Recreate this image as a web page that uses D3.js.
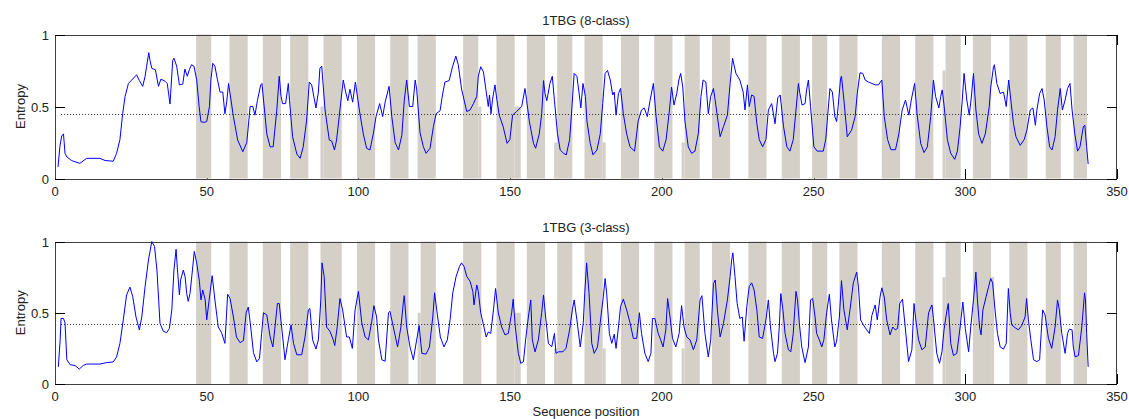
<!DOCTYPE html>
<html>
<head>
<meta charset="utf-8">
<script src="https://cdn.jsdelivr.net/npm/d3@7"></script>
<style>
  body { margin: 0; background: #fff; }
  text { font-family: Arial, "Liberation Sans", sans-serif; font-size: 13px; fill: #222; }
</style>
</head>
<body>
<svg id="chart" width="1129" height="419"></svg>
<script>
/////////////////
// Data        //
/////////////////

var panelTitles = ["1TBG (8-class)", "1TBG (3-class)"];
var xTicks = [0, 50, 100, 150, 200, 250, 300, 350];
var yTicks = [0, 0.5, 1];
var meanEntropy = [0.45, 0.42];
var seqRange = [2, 340.5];

// entropy per sequence position, 8-class prediction: [position, entropy]
var entropy8 = [[1.0,0.08],[1.6,0.22],[2.2,0.295],[2.8,0.31],[3.3,0.175],[3.9,0.15],[5.5,0.124],[8.2,0.105],[10.4,0.14],[14.8,0.14],[16.5,0.125],[19.2,0.12],[20.3,0.175],[21.4,0.27],[22.3,0.45],[23.1,0.57],[24.2,0.66],[25.1,0.68],[26.9,0.72],[27.8,0.68],[28.9,0.64],[29.7,0.71],[30.2,0.78],[30.9,0.874],[31.3,0.82],[31.9,0.765],[33.1,0.755],[34.1,0.64],[34.9,0.69],[36.3,0.675],[37.0,0.66],[37.9,0.517],[38.8,0.82],[39.2,0.835],[40.1,0.78],[41.0,0.65],[42.1,0.655],[42.8,0.76],[43.6,0.71],[44.3,0.757],[45.0,0.79],[45.8,0.78],[46.7,0.685],[47.5,0.5],[48.1,0.394],[49.1,0.39],[50.0,0.395],[50.9,0.5],[51.4,0.69],[52.0,0.8],[52.7,0.78],[53.5,0.69],[54.4,0.6],[55.3,0.6],[56.0,0.45],[56.6,0.533],[57.2,0.66],[58.8,0.43],[60.2,0.267],[61.9,0.186],[63.2,0.25],[63.9,0.406],[64.3,0.5],[65.2,0.5],[65.9,0.44],[66.7,0.54],[67.8,0.65],[68.2,0.66],[69.8,0.31],[70.9,0.22],[71.9,0.22],[73.1,0.476],[73.9,0.71],[74.5,0.57],[75.0,0.52],[76.0,0.52],[76.9,0.66],[77.3,0.54],[78.3,0.29],[79.7,0.17],[80.8,0.14],[81.8,0.22],[82.9,0.4],[83.8,0.67],[84.6,0.65],[86.0,0.49],[86.8,0.6],[87.3,0.765],[87.9,0.78],[89.0,0.476],[90.4,0.267],[91.2,0.26],[92.1,0.198],[92.8,0.267],[93.9,0.476],[95.0,0.684],[95.8,0.6],[96.5,0.54],[97.2,0.62],[98.1,0.53],[99.0,0.67],[100.3,0.476],[101.6,0.31],[102.7,0.21],[103.8,0.198],[104.9,0.31],[105.8,0.43],[107.0,0.52],[108.0,0.43],[108.8,0.53],[110.1,0.64],[111.0,0.43],[112.1,0.25],[113.2,0.198],[114.3,0.3],[115.1,0.54],[115.9,0.684],[116.8,0.5],[117.9,0.5],[118.7,0.684],[119.2,0.62],[120.3,0.32],[121.4,0.22],[122.3,0.175],[123.6,0.21],[124.7,0.36],[125.6,0.45],[126.9,0.47],[127.7,0.58],[128.5,0.67],[129.9,0.68],[131.0,0.776],[132.1,0.85],[132.9,0.79],[134.0,0.62],[135.7,0.465],[136.8,0.476],[137.9,0.52],[139.0,0.57],[139.5,0.71],[140.3,0.776],[141.2,0.74],[142.0,0.62],[142.8,0.5],[143.2,0.58],[143.7,0.45],[144.2,0.55],[145.0,0.65],[145.6,0.55],[146.4,0.44],[147.7,0.36],[149.0,0.244],[149.9,0.27],[150.8,0.44],[152.1,0.465],[153.8,0.5],[154.9,0.625],[155.4,0.55],[156.3,0.4],[157.7,0.244],[158.4,0.21],[159.6,0.31],[160.4,0.45],[161.0,0.68],[161.5,0.59],[162.1,0.54],[163.1,0.66],[163.9,0.71],[164.6,0.54],[165.6,0.31],[166.5,0.198],[167.6,0.175],[168.5,0.164],[169.6,0.27],[170.3,0.476],[171.1,0.73],[172.0,0.71],[172.8,0.58],[173.3,0.49],[174.0,0.66],[174.8,0.57],[175.3,0.4],[176.4,0.244],[177.3,0.164],[178.6,0.198],[179.7,0.31],[180.5,0.52],[181.3,0.73],[182.1,0.75],[183.0,0.684],[183.8,0.58],[184.3,0.6],[184.9,0.44],[185.7,0.59],[186.4,0.625],[187.3,0.45],[188.4,0.31],[189.5,0.22],[191.0,0.19],[192.2,0.4],[193.3,0.476],[194.2,0.49],[195.2,0.43],[196.1,0.54],[197.2,0.66],[198.1,0.43],[199.2,0.22],[200.3,0.19],[201.4,0.27],[202.5,0.476],[203.2,0.635],[204.0,0.51],[204.9,0.59],[205.6,0.684],[206.2,0.73],[206.9,0.635],[207.6,0.4],[208.7,0.22],[209.8,0.175],[210.9,0.19],[212.0,0.31],[212.9,0.57],[213.6,0.684],[214.5,0.67],[215.3,0.45],[216.1,0.57],[217.0,0.625],[217.6,0.54],[219.2,0.29],[220.3,0.36],[221.6,0.44],[222.5,0.66],[223.3,0.835],[224.4,0.73],[225.7,0.684],[226.8,0.6],[227.4,0.476],[228.2,0.65],[228.8,0.5],[229.6,0.58],[230.4,0.57],[231.3,0.38],[232.1,0.27],[233.2,0.22],[234.3,0.27],[235.1,0.476],[236.2,0.52],[237.3,0.38],[238.2,0.56],[239.0,0.58],[240.1,0.36],[241.2,0.22],[242.2,0.19],[243.3,0.27],[244.2,0.476],[245.0,0.66],[245.5,0.59],[246.2,0.51],[247.2,0.52],[247.7,0.615],[248.3,0.684],[249.0,0.5],[250.1,0.22],[251.2,0.19],[253.2,0.19],[254.0,0.27],[254.8,0.476],[255.4,0.625],[256.2,0.6],[257.0,0.43],[257.6,0.395],[258.1,0.5],[258.9,0.695],[259.2,0.71],[260.0,0.545],[261.1,0.29],[262.5,0.335],[263.7,0.43],[264.4,0.59],[265.3,0.734],[266.2,0.73],[267.0,0.684],[268.1,0.67],[269.2,0.66],[270.3,0.65],[271.4,0.65],[272.0,0.67],[272.5,0.684],[273.3,0.43],[274.4,0.27],[275.5,0.2],[277.0,0.2],[278.1,0.31],[279.2,0.476],[280.3,0.545],[281.4,0.44],[282.2,0.545],[283.3,0.66],[284.1,0.45],[285.3,0.244],[286.4,0.18],[287.5,0.22],[288.6,0.43],[289.5,0.684],[290.2,0.57],[291.3,0.49],[291.9,0.57],[292.4,0.615],[293.0,0.51],[294.1,0.27],[295.2,0.175],[296.5,0.133],[297.4,0.19],[298.3,0.36],[299.0,0.545],[299.6,0.73],[300.5,0.545],[301.3,0.44],[301.9,0.545],[302.7,0.73],[303.5,0.476],[304.4,0.31],[305.5,0.244],[306.6,0.31],[307.9,0.5],[308.4,0.635],[309.3,0.776],[309.6,0.79],[310.4,0.66],[311.5,0.59],[312.6,0.6],[313.5,0.5],[314.3,0.684],[315.0,0.545],[315.9,0.38],[316.7,0.29],[318.1,0.23],[319.4,0.27],[320.3,0.335],[321.4,0.476],[322.3,0.49],[323.1,0.37],[323.6,0.476],[324.5,0.59],[325.3,0.625],[326.0,0.545],[326.9,0.36],[327.8,0.22],[328.6,0.198],[329.6,0.29],[330.4,0.476],[331.3,0.625],[332.0,0.476],[332.9,0.545],[333.7,0.625],[334.5,0.66],[335.2,0.476],[336.1,0.31],[337.0,0.19],[337.8,0.22],[338.9,0.36],[339.4,0.37],[340.0,0.22],[340.5,0.1]];

// entropy per sequence position, 3-class prediction
var entropy3 = [[1.1,0.12],[1.7,0.31],[2.0,0.46],[2.8,0.46],[3.3,0.43],[3.9,0.17],[5.0,0.135],[6.6,0.13],[8.0,0.105],[9.3,0.13],[10.4,0.14],[14.8,0.14],[17.0,0.15],[19.2,0.155],[20.3,0.19],[21.4,0.285],[22.5,0.45],[23.6,0.625],[24.7,0.68],[25.6,0.615],[26.7,0.47],[27.8,0.38],[28.6,0.47],[29.7,0.685],[30.8,0.87],[31.9,1.0],[32.8,0.965],[33.6,0.8],[34.6,0.426],[35.7,0.37],[36.8,0.36],[37.7,0.39],[38.5,0.52],[39.2,0.8],[39.9,0.945],[40.3,0.82],[41.0,0.625],[41.4,0.73],[42.3,0.8],[42.9,0.75],[43.4,0.635],[43.9,0.58],[44.5,0.635],[45.3,0.8],[45.9,0.93],[46.7,0.85],[47.6,0.72],[48.1,0.59],[48.7,0.66],[49.5,0.59],[50.0,0.45],[50.8,0.59],[51.8,0.76],[52.7,0.59],[53.8,0.4],[54.9,0.36],[56.0,0.285],[56.9,0.63],[57.7,0.6],[58.8,0.47],[59.8,0.33],[61.0,0.29],[62.1,0.305],[63.0,0.5],[63.7,0.54],[64.5,0.4],[65.4,0.22],[66.5,0.155],[67.4,0.18],[68.1,0.355],[68.7,0.5],[69.8,0.485],[70.9,0.33],[71.8,0.26],[72.5,0.4],[73.3,0.565],[73.9,0.565],[74.7,0.4],[75.8,0.17],[76.9,0.31],[77.8,0.415],[78.6,0.285],[79.7,0.205],[81.3,0.205],[82.4,0.33],[83.5,0.52],[84.0,0.53],[84.9,0.31],[86.0,0.245],[86.8,0.31],[87.6,0.59],[88.0,0.85],[88.7,0.755],[89.5,0.4],[90.6,0.37],[91.7,0.31],[92.2,0.27],[93.0,0.4],[93.9,0.6],[94.8,0.52],[96.1,0.33],[97.0,0.33],[98.0,0.25],[98.9,0.52],[100.0,0.65],[101.1,0.43],[102.2,0.33],[103.3,0.31],[104.4,0.44],[105.1,0.55],[106.0,0.47],[106.6,0.31],[107.7,0.17],[108.8,0.16],[109.9,0.5],[110.4,0.51],[111.5,0.4],[112.9,0.26],[114.0,0.4],[114.8,0.57],[115.1,0.62],[115.9,0.4],[117.0,0.26],[118.1,0.17],[119.2,0.31],[120.0,0.41],[120.9,0.215],[122.3,0.21],[123.4,0.26],[124.5,0.47],[125.1,0.64],[125.8,0.52],[127.0,0.33],[128.2,0.26],[129.3,0.31],[130.2,0.45],[131.1,0.64],[132.2,0.755],[133.3,0.825],[134.0,0.85],[134.8,0.825],[135.7,0.755],[136.8,0.72],[137.7,0.65],[138.1,0.555],[139.0,0.695],[139.5,0.65],[140.3,0.5],[141.2,0.415],[142.1,0.33],[142.8,0.365],[143.6,0.355],[144.5,0.52],[145.2,0.67],[146.1,0.5],[147.2,0.4],[148.3,0.345],[149.4,0.355],[150.5,0.5],[151.0,0.595],[151.7,0.4],[152.7,0.215],[153.5,0.145],[154.4,0.157],[155.1,0.31],[156.0,0.47],[156.8,0.59],[157.3,0.31],[158.2,0.225],[159.3,0.31],[160.4,0.5],[161.0,0.625],[161.7,0.47],[162.6,0.285],[163.7,0.26],[164.6,0.355],[165.1,0.215],[165.9,0.226],[167.4,0.226],[168.4,0.25],[169.6,0.38],[170.5,0.52],[171.1,0.59],[172.0,0.45],[173.1,0.26],[174.1,0.43],[174.6,0.64],[175.2,0.85],[176.0,0.64],[176.9,0.285],[177.7,0.215],[178.8,0.26],[179.9,0.47],[180.7,0.61],[181.3,0.74],[181.8,0.64],[182.7,0.355],[183.5,0.285],[184.3,0.35],[184.9,0.25],[185.7,0.4],[186.4,0.545],[187.3,0.595],[188.4,0.52],[189.5,0.43],[190.6,0.32],[191.7,0.32],[192.6,0.5],[193.3,0.355],[194.4,0.215],[195.5,0.157],[196.4,0.215],[196.9,0.46],[197.7,0.46],[198.8,0.355],[199.6,0.31],[200.4,0.26],[201.3,0.38],[201.9,0.6],[202.7,0.47],[203.5,0.32],[204.6,0.26],[205.7,0.355],[206.5,0.55],[207.3,0.4],[208.2,0.33],[209.3,0.31],[210.4,0.24],[211.5,0.31],[212.6,0.59],[213.2,0.62],[214.2,0.355],[215.3,0.19],[216.1,0.31],[217.0,0.705],[217.6,0.73],[218.3,0.52],[219.2,0.33],[220.3,0.425],[221.6,0.59],[222.5,0.755],[223.0,0.87],[223.4,0.92],[224.1,0.755],[224.8,0.567],[225.7,0.46],[226.5,0.47],[227.1,0.3],[228.0,0.545],[228.8,0.685],[229.6,0.71],[230.4,0.66],[231.3,0.52],[232.1,0.33],[233.2,0.32],[234.3,0.45],[235.1,0.59],[235.8,0.4],[236.8,0.215],[237.3,0.157],[238.1,0.215],[238.7,0.4],[239.2,0.635],[239.9,0.52],[240.6,0.355],[241.7,0.24],[242.5,0.226],[243.3,0.355],[244.2,0.65],[244.7,0.59],[245.3,0.43],[246.1,0.26],[247.2,0.15],[248.3,0.26],[249.0,0.59],[249.7,0.6],[250.5,0.47],[251.0,0.355],[251.9,0.31],[252.7,0.26],[253.4,0.31],[254.3,0.5],[255.2,0.63],[255.9,0.45],[257.0,0.26],[257.6,0.3],[258.5,0.47],[259.2,0.725],[260.0,0.52],[261.1,0.38],[262.0,0.52],[263.1,0.71],[264.2,0.785],[264.8,0.68],[265.5,0.45],[266.4,0.415],[267.5,0.38],[268.4,0.355],[269.2,0.48],[270.3,0.555],[271.0,0.45],[271.9,0.61],[272.5,0.675],[273.3,0.61],[274.1,0.45],[275.2,0.345],[276.1,0.4],[276.9,0.38],[277.7,0.39],[278.4,0.565],[279.3,0.595],[280.2,0.4],[281.3,0.157],[282.4,0.24],[283.1,0.565],[283.7,0.45],[284.6,0.31],[285.7,0.24],[286.8,0.26],[287.9,0.5],[289.0,0.555],[289.5,0.46],[290.6,0.215],[291.5,0.145],[292.3,0.226],[293.0,0.38],[293.9,0.51],[294.4,0.565],[295.2,0.285],[296.1,0.2],[297.2,0.215],[298.3,0.4],[299.2,0.575],[300.0,0.39],[301.1,0.226],[301.8,0.4],[302.7,0.59],[303.5,0.785],[304.0,0.59],[304.7,0.4],[305.2,0.345],[305.8,0.52],[306.9,0.615],[307.7,0.685],[308.4,0.74],[309.0,0.71],[309.8,0.52],[310.6,0.355],[311.5,0.26],[312.6,0.245],[313.5,0.285],[314.2,0.67],[314.8,0.5],[315.3,0.415],[316.4,0.395],[317.5,0.38],[318.6,0.41],[319.7,0.47],[320.2,0.6],[320.8,0.45],[321.6,0.31],[322.5,0.17],[323.6,0.157],[324.5,0.17],[325.0,0.355],[325.5,0.52],[326.3,0.485],[327.4,0.32],[328.5,0.25],[329.6,0.4],[330.4,0.59],[331.0,0.52],[331.8,0.355],[332.9,0.215],[333.7,0.355],[334.3,0.385],[335.2,0.38],[335.6,0.26],[336.2,0.19],[337.3,0.2],[338.4,0.4],[339.3,0.64],[339.6,0.59],[340.0,0.355],[340.5,0.12]];

// shaded structure segments: [from, to, height]
var segments8 = [[46.5,51.5,1],[57.5,63.5,1],[68.5,74.5,1],[77.5,83.5,1],[87.5,88.5,0.5],[88.5,94.5,1],[99.5,105.5,1],[110.5,116.5,1],[119.5,125.5,1],[134.5,139.5,1],[139.5,140.5,0.5],[145.5,151.5,1],[151.5,153.5,0.5],[155.5,161.5,1],[164.5,165.5,0.25],[165.5,170.5,1],[174.5,180.5,1],[180.5,181.5,0.25],[186.5,192.5,1],[197.5,203.5,1],[206.5,207.5,0.25],[207.5,212.5,1],[216.5,222.5,1],[228.5,234.5,1],[239.5,245.5,1],[249.5,254.5,1],[258.5,264.5,1],[272.5,278.5,1],[283.5,289.5,1],[292.5,293.5,0.75],[293.5,298.5,1],[302.5,308.5,1],[314.5,320.5,1],[326.5,331.5,1],[335.7,340.1,1]];

var segments3 = [[46.5,51.5,1],[57.5,63.5,1],[68.5,74.5,1],[77.5,83.5,1],[87.5,94.5,1],[99.5,105.5,1],[110.5,116.5,1],[119.5,120.5,0.5],[120.5,125.5,1],[134.5,140.5,1],[145.5,151.5,1],[151.5,153.5,0.5],[155.5,161.5,1],[164.5,165.5,0.25],[165.5,170.5,1],[174.5,180.5,1],[180.5,181.5,0.25],[186.5,192.5,1],[197.5,203.5,1],[206.5,207.5,0.25],[207.5,212.5,1],[216.5,222.5,1],[228.5,234.5,1],[239.5,245.5,1],[249.5,254.5,1],[258.5,264.5,1],[272.5,278.5,1],[283.5,289.5,1],[292.5,293.5,0.75],[293.5,298.5,1],[302.5,308.5,1],[308.5,309.5,0.75],[314.5,320.5,1],[326.5,331.5,1],[335.7,340.1,1]];

/////////////////
// Layout      //
/////////////////

var svg = d3.select("#chart");
var left = 55, right = 1117;
var tickLen = 10;

var xScale = d3.scaleLinear().domain([0, 350]).range([left, right]);

var panels = [
  {title: panelTitles[0], data: entropy8, segs: segments8, mean: meanEntropy[0], top: 34.5, bottom: 178.5},
  {title: panelTitles[1], data: entropy3, segs: segments3, mean: meanEntropy[1], top: 241.5, bottom: 384}
];

panels.forEach(function(p, i) {
  var yScale = d3.scaleLinear().domain([0, 1]).range([p.bottom, p.top]);
  var g = svg.append("g").attr("class", "panel");

  // x ticks (inward, top and bottom) - drawn first so shading covers them
  var xt = g.append("g").attr("shape-rendering", "crispEdges");
  xTicks.forEach(function(t) {
    var x = Math.round(xScale(t)) + 0.5;
    xt.append("line").attr("x1", x).attr("x2", x)
      .attr("y1", p.bottom).attr("y2", p.bottom - tickLen).attr("stroke", "#000");
    xt.append("line").attr("x1", x).attr("x2", x)
      .attr("y1", p.top).attr("y2", p.top + tickLen).attr("stroke", "#000");
  });

  // structure shading
  g.append("g").selectAll("rect")
    .data(p.segs)
    .enter().append("rect")
    .attr("x", function(d) { return xScale(d[0]); })
    .attr("width", function(d) { return xScale(d[1]) - xScale(d[0]); })
    .attr("y", function(d) { return yScale(d[2]); })
    .attr("height", function(d) { return p.bottom - yScale(d[2]); })
    .attr("fill", "#d4d0c8");

  // frame
  g.append("rect")
    .attr("x", left + 0.5).attr("y", Math.round(p.top) + 0.5)
    .attr("width", right - left - 1).attr("height", Math.round(p.bottom) - Math.round(p.top))
    .attr("fill", "none").attr("stroke", "#404040")
    .attr("shape-rendering", "crispEdges");

  // y ticks (inward, both sides)
  var yt = g.append("g").attr("shape-rendering", "crispEdges");
  yTicks.forEach(function(t) {
    var y = Math.round(yScale(t)) + 0.5;
    yt.append("line").attr("x1", left).attr("x2", left + tickLen)
      .attr("y1", y).attr("y2", y).attr("stroke", "#000");
    yt.append("line").attr("x1", right).attr("x2", right - tickLen)
      .attr("y1", y).attr("y2", y).attr("stroke", "#000");
    g.append("text")
      .attr("x", left - 6).attr("y", y + 4.5)
      .attr("text-anchor", "end")
      .text(t);
  });

  // x tick labels
  xTicks.forEach(function(t) {
    g.append("text")
      .attr("x", xScale(t)).attr("y", p.bottom + 17)
      .attr("text-anchor", "middle")
      .text(t);
  });

  // mean entropy (dotted)
  g.append("line")
    .attr("x1", xScale(seqRange[0])).attr("x2", xScale(seqRange[1]))
    .attr("y1", Math.round(yScale(p.mean)) + 0.5).attr("y2", Math.round(yScale(p.mean)) + 0.5)
    .attr("stroke", "#333").attr("stroke-dasharray", "1,2");

  // entropy line
  var line = d3.line()
    .x(function(d) { return xScale(d[0]); })
    .y(function(d) { return yScale(d[1]); });

  g.append("path")
    .datum(p.data)
    .attr("d", line)
    .attr("fill", "none")
    .attr("stroke", "#0000ff")
    .attr("stroke-width", 1);

  // title and y label
  g.append("text")
    .attr("x", (left + right) / 2).attr("y", p.top - 10)
    .attr("text-anchor", "middle")
    .text(p.title);

  g.append("text")
    .attr("transform", "translate(" + 25 + "," + (p.top + p.bottom) / 2 + ") rotate(-90)")
    .attr("text-anchor", "middle")
    .text("Entropy");
});

// x label, kept just inside the bottom edge
svg.append("text")
  .attr("x", (left + right) / 2).attr("y", 415.5)
  .attr("text-anchor", "middle")
  .text("Sequence position");
</script>
</body>
</html>
